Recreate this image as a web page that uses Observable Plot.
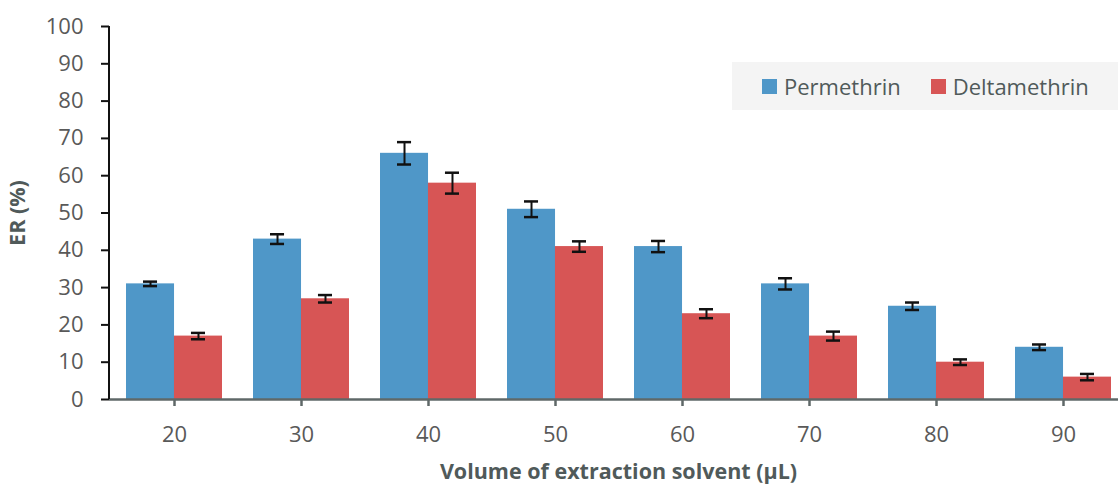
<!DOCTYPE html>
<html>
<head>
<meta charset="utf-8">
<script src="https://cdn.jsdelivr.net/npm/d3@7"></script>
<script src="https://cdn.jsdelivr.net/npm/@observablehq/plot@0.6"></script>
<style>
  html, body { margin: 0; padding: 0; background: #fff; overflow: hidden; }
  #wrap { position: relative; width: 1118px; height: 484px; font-family: "Open Sans", sans-serif; }
  #legend { position: absolute; left: 732px; top: 62px; width: 386px; height: 48px; background: #f4f4f4;
            display: flex; align-items: center; font-size: 22px; color: #505a5a; }
  #legend .item { display: flex; align-items: center; }
  #legend .sw { width: 15px; height: 15px; margin-right: 7px; }
</style>
</head>
<body>
<div id="wrap"></div>
<script>
const categories = ["20", "30", "40", "50", "60", "70", "80", "90"];
const permethrin = [31, 43, 66, 51, 41, 31, 25, 14];
const deltamethrin = [17, 27, 58, 41, 23, 17, 10, 6];
const permethrinErr = [0.6, 1.3, 3.0, 2.1, 1.5, 1.5, 1.0, 0.75];
const deltamethrinErr = [0.85, 1.0, 2.8, 1.4, 1.2, 1.2, 0.75, 0.85];
const seriesNames = ["Permethrin", "Deltamethrin"];
const seriesColors = ["#4f97c8", "#d75555"];
const yTicks = [0, 10, 20, 30, 40, 50, 60, 70, 80, 90, 100];

const rows = categories.map((c, i) => ({
  cat: c,
  perm: permethrin[i], permLo: permethrin[i] - permethrinErr[i], permHi: permethrin[i] + permethrinErr[i],
  delt: deltamethrin[i], deltLo: deltamethrin[i] - deltamethrinErr[i], deltHi: deltamethrin[i] + deltamethrinErr[i]
}));

const W = 1118, H = 484, mL = 109, mR = -9;
const pInner = 0.246, pOuter = 0.123;
const step = (W - mR - mL) / (categories.length - pInner + 2 * pOuter);
const bw = step * (1 - pInner);
const half = bw / 2;
const cap = 7;

const chart = Plot.plot({
  width: W,
  height: H,
  marginLeft: mL,
  marginRight: mR,
  marginTop: 26,
  marginBottom: 85,
  style: { fontFamily: "'Open Sans', sans-serif", fontSize: "21px", background: "transparent", overflow: "visible" },
  x: { type: "band", domain: categories, paddingInner: pInner, paddingOuter: pOuter },
  y: { domain: [0, 100] },
  marks: [
    Plot.barY(rows, { x: "cat", y: "perm", fill: seriesColors[0], insetRight: half, insetLeft: 0 }),
    Plot.barY(rows, { x: "cat", y: "delt", fill: seriesColors[1], insetLeft: half, insetRight: 0 }),
    Plot.ruleX(rows, { x: "cat", y1: "permLo", y2: "permHi", dx: -half / 2, stroke: "#111", strokeWidth: 2 }),
    Plot.ruleX(rows, { x: "cat", y1: "deltLo", y2: "deltHi", dx: half / 2, stroke: "#111", strokeWidth: 2 }),
    Plot.tickY(rows, { x: "cat", y: "permHi", insetLeft: half / 2 - cap, insetRight: bw - half / 2 - cap, stroke: "#111", strokeWidth: 2.5 }),
    Plot.tickY(rows, { x: "cat", y: "permLo", insetLeft: half / 2 - cap, insetRight: bw - half / 2 - cap, stroke: "#111", strokeWidth: 2.5 }),
    Plot.tickY(rows, { x: "cat", y: "deltHi", insetLeft: half + half / 2 - cap, insetRight: half / 2 - cap, stroke: "#111", strokeWidth: 2.5 }),
    Plot.tickY(rows, { x: "cat", y: "deltLo", insetLeft: half + half / 2 - cap, insetRight: half / 2 - cap, stroke: "#111", strokeWidth: 2.5 }),
    Plot.ruleY([0], { stroke: "#5f6868", strokeWidth: 2.5 }),
    Plot.axisY({ ticks: yTicks, tickSize: 8, tickPadding: 18, stroke: "#111", strokeWidth: 2, fill: "#595959", fontSize: 22,
                 label: "ER (%)", labelAnchor: "center", labelArrow: "none", labelOffset: 100 }),
    Plot.axisX({ tickSize: 7, tickPadding: 20, stroke: "#5f6868", strokeWidth: 2.5, fill: "#595959", fontSize: 22,
                 label: "Volume of extraction solvent (µL)", labelAnchor: "center", labelArrow: "none", labelOffset: 79 })
  ]
});

chart.querySelectorAll("[aria-label='y-axis label'] text, [aria-label='x-axis label'] text").forEach(t => {
  t.setAttribute("font-weight", "bold");
  t.setAttribute("font-size", "21.5");
  t.setAttribute("fill", "#505a5a");
});

const wrap = document.getElementById("wrap");
wrap.appendChild(chart);

// y axis line
const ns = "http://www.w3.org/2000/svg";
const yl = document.createElementNS(ns, "line");
yl.setAttribute("x1", mL); yl.setAttribute("x2", mL);
yl.setAttribute("y1", 26); yl.setAttribute("y2", H - 85);
yl.setAttribute("stroke", "#111"); yl.setAttribute("stroke-width", 2);
chart.appendChild(yl);

const legend = document.createElement("div");
legend.id = "legend";
seriesNames.forEach((name, i) => {
  const it = document.createElement("div");
  it.className = "item";
  it.style.marginLeft = "30px";
  const sw = document.createElement("div");
  sw.className = "sw";
  sw.style.background = seriesColors[i];
  const tx = document.createElement("span");
  tx.textContent = name;
  it.appendChild(sw); it.appendChild(tx);
  legend.appendChild(it);
});
wrap.appendChild(legend);
</script>
</body>
</html>
